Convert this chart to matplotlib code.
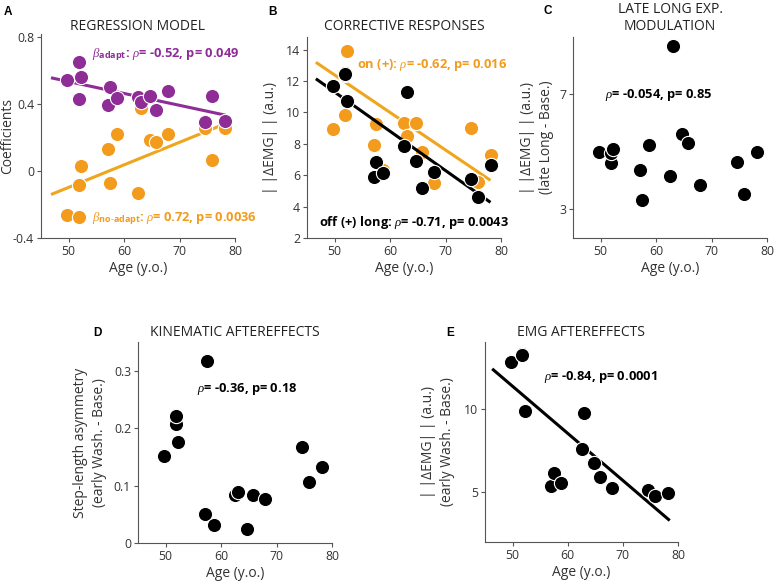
import matplotlib
matplotlib.use("Agg")
import matplotlib.pyplot as plt
import numpy as np

plt.rcParams['font.family'] = ['Open Sans', 'DejaVu Sans']
plt.rcParams['mathtext.fontset'] = 'custom'
plt.rcParams['mathtext.rm'] = 'Open Sans'
plt.rcParams['mathtext.it'] = 'Liberation Serif:italic'
plt.rcParams['mathtext.bf'] = 'Open Sans:bold'

# ---------------- data ----------------
age = [49.7, 51.8, 51.8, 52.2, 57.0, 57.5, 58.7, 62.5, 63.0, 64.7, 65.8, 68.0, 74.5, 75.8, 78.2]

# A: regression coefficients
beta_adapt    = [0.541, 0.647, 0.428, 0.557, 0.390, 0.498, 0.436, 0.438, 0.410, 0.444, 0.360, 0.478, 0.290, 0.446, 0.300]
beta_noadapt  = [-0.261, -0.273, -0.086, 0.032, 0.131, -0.072, 0.217, -0.131, 0.372, 0.183, 0.171, 0.219, 0.257, 0.064, 0.255]
fitA_age      = [46.8, 78.3]
fitA_adapt    = [0.555, 0.332]
fitA_noadapt  = [-0.141, 0.282]

# B: corrective responses
emg_off_long  = [11.65, 12.52, 12.45, 10.71, 5.88, 6.81, 6.11, 7.85, 11.27, 6.88, 5.20, 6.22, 5.77, 4.63, 6.67]
emg_on        = [8.91, 9.84, 12.40, 13.94, 7.92, 9.25, 6.35, 9.34, 8.47, 9.34, 7.47, 5.52, 9.02, 5.56, 7.30]
fitB_age      = [46.6, 78.1]
fitB_on       = [13.19, 5.67]
fitB_off      = [12.14, 4.27]

# C: late long exp. modulation
late_long     = [4.98, 4.60, 4.95, 5.09, 4.36, 3.31, 5.25, 4.16, 8.69, 5.62, 5.30, 3.86, 4.64, 3.54, 4.98]

# D: kinematic aftereffects
step_asym     = [0.152, 0.208, 0.221, 0.176, 0.050, 0.317, 0.031, 0.084, 0.089, 0.024, 0.084, 0.076, 0.167, 0.107, 0.133]

# E: EMG aftereffects
emg_after     = [12.81, 13.29, 13.20, 9.86, 5.36, 6.12, 5.52, 7.59, 9.74, 6.73, 5.90, 5.26, 5.10, 4.77, 4.93]
fitE_age      = [46.3, 78.5]
fitE          = [12.39, 3.29]

PURPLE = '#8E2D96'
ORANGE = '#F29B1C'
LORANGE = '#EFA51C'
GRAY = '#555555'
TXT = '#333333'

W, H = 775, 584
fig = plt.figure(figsize=(W / 100, H / 100), dpi=100)


def make_ax(l, r, b, t):
    ax = fig.add_axes([l / W, 1 - b / H, (r - l) / W, (b - t) / H])
    for s in ('top', 'right'):
        ax.spines[s].set_visible(False)
    for s in ('left', 'bottom'):
        ax.spines[s].set_color(GRAY)
        ax.spines[s].set_linewidth(0.8)
    ax.tick_params(direction='out', length=3, width=0.8, color=GRAY,
                   labelsize=8.8, labelcolor=TXT, pad=2)
    ax.set_xlim(45, 80)
    ax.set_xticks([50, 60, 70, 80])
    ax.set_xlabel('Age (y.o.)', fontsize=10, color=TXT, labelpad=2)
    return ax


def ylab(ax, text, xpix, left, width):
    # xpix: right edge (on screen) of the rotated label block
    ax.set_ylabel(text, fontsize=10, color=TXT, linespacing=1.35)
    ax.yaxis.set_label_coords((xpix - left) / width, 0.5)


def dots(ax, y, color, z=3):
    ax.scatter(age, y, s=105, c=color, edgecolors='white', linewidths=0.8, zorder=z)


def fig_text(x, y, s, **kw):
    fig.text(x / W, 1 - y / H, s, **kw)


ANN = dict(fontsize=9.3, fontweight='bold', va='center', ha='left')
TTL = dict(fontsize=10, color='#222222', ha='center', va='center')
LET = dict(fontsize=8.5, fontweight='bold', family='Liberation Sans', va='center')

# ---------- A ----------
axA = make_ax(41, 235, 238, 34)
axA.set_ylim(-0.4, 0.816)
axA.set_yticks([-0.4, 0, 0.4, 0.8])
axA.set_yticklabels(['-0.4', '0', '0.4', '0.8'])
axA.plot(fitA_age, fitA_noadapt, color=LORANGE, lw=2.2, zorder=2, solid_capstyle='butt')
dots(axA, beta_noadapt, ORANGE, 3)
axA.plot(fitA_age, fitA_adapt, color=PURPLE, lw=2.2, zorder=4, solid_capstyle='butt')
dots(axA, beta_adapt, PURPLE, 5)
ylab(axA, 'Coefficients', 15.5, 41, 194)
fig_text(138, 27, 'REGRESSION MODEL', **TTL)
fig_text(92, 55, r'$\beta_{\mathbf{adapt}}$: $\rho$= -0.52, p= 0.049', color=PURPLE, **ANN)
fig_text(92, 219, r'$\beta_{\mathbf{no\text{-}adapt}}$: $\rho$= 0.72, p= 0.0036', color=ORANGE, **ANN)
fig_text(4, 12, 'A', **LET)

# ---------- B ----------
axB = make_ax(307, 501, 238, 37)
axB.set_ylim(2, 14.8)
axB.set_yticks([2, 4, 6, 8, 10, 12, 14])
axB.plot(fitB_age, fitB_on, color=LORANGE, lw=2.2, zorder=2, solid_capstyle='butt')
dots(axB, emg_on, ORANGE, 3)
axB.plot(fitB_age, fitB_off, color='black', lw=2.2, zorder=4, solid_capstyle='butt')
dots(axB, emg_off_long, 'black', 5)
ylab(axB, '| |ΔEMG| | (a.u.)', 278, 307, 194)
fig_text(404, 27, 'CORRECTIVE RESPONSES', **TTL)
fig_text(357, 65, r'on (+): $\rho$= -0.62, p= 0.016', color=ORANGE, **ANN)
fig_text(319, 222, r'off (+) long: $\rho$= -0.71, p= 0.0043', color='black', **ANN)
fig_text(268, 12, 'B', **LET)

# ---------- C ----------
axC = make_ax(573, 767, 238, 37)
axC.set_ylim(2, 9)
axC.set_yticks([3, 7])
dots(axC, late_long, 'black', 5)
ylab(axC, '| |ΔEMG| | (a.u.)\n(late Long - Base.)', 554, 573, 194)
fig_text(670, 18, 'LATE LONG EXP.\nMODULATION', linespacing=1.25, **TTL)
fig_text(605, 95, r'$\rho$= -0.054, p= 0.85', color='black', **ANN)
fig_text(543, 11, 'C', **LET)

# ---------- D ----------
axD = make_ax(138, 332, 543, 342)
axD.set_ylim(0, 0.35)
axD.set_yticks([0, 0.1, 0.2, 0.3])
axD.set_yticklabels(['0', '0.1', '0.2', '0.3'])
dots(axD, step_asym, 'black', 5)
ylab(axD, 'Step-length asymmetry\n(early Wash. - Base.)', 107, 138, 194)
fig_text(235, 333, 'KINEMATIC AFTEREFFECTS', **TTL)
fig_text(197, 389, r'$\rho$= -0.36, p= 0.18', color='black', **ANN)
fig_text(93, 333, 'D', **LET)

# ---------- E ----------
axE = make_ax(485, 678, 542, 342)
axE.set_ylim(2, 14)
axE.set_yticks([5, 10])
axE.plot(fitE_age, fitE, color='black', lw=2.2, zorder=2, solid_capstyle='butt')
dots(axE, emg_after, 'black', 5)
ylab(axE, '| |ΔEMG| | (a.u.)\n(early Wash. - Base.)', 455, 485, 193)
fig_text(581, 333, 'EMG AFTEREFFECTS', **TTL)
fig_text(544, 377, r'$\rho$= -0.84, p= 0.0001', color='black', **ANN)
fig_text(446, 333, 'E', **LET)

fig.savefig('out.png', dpi=100)
